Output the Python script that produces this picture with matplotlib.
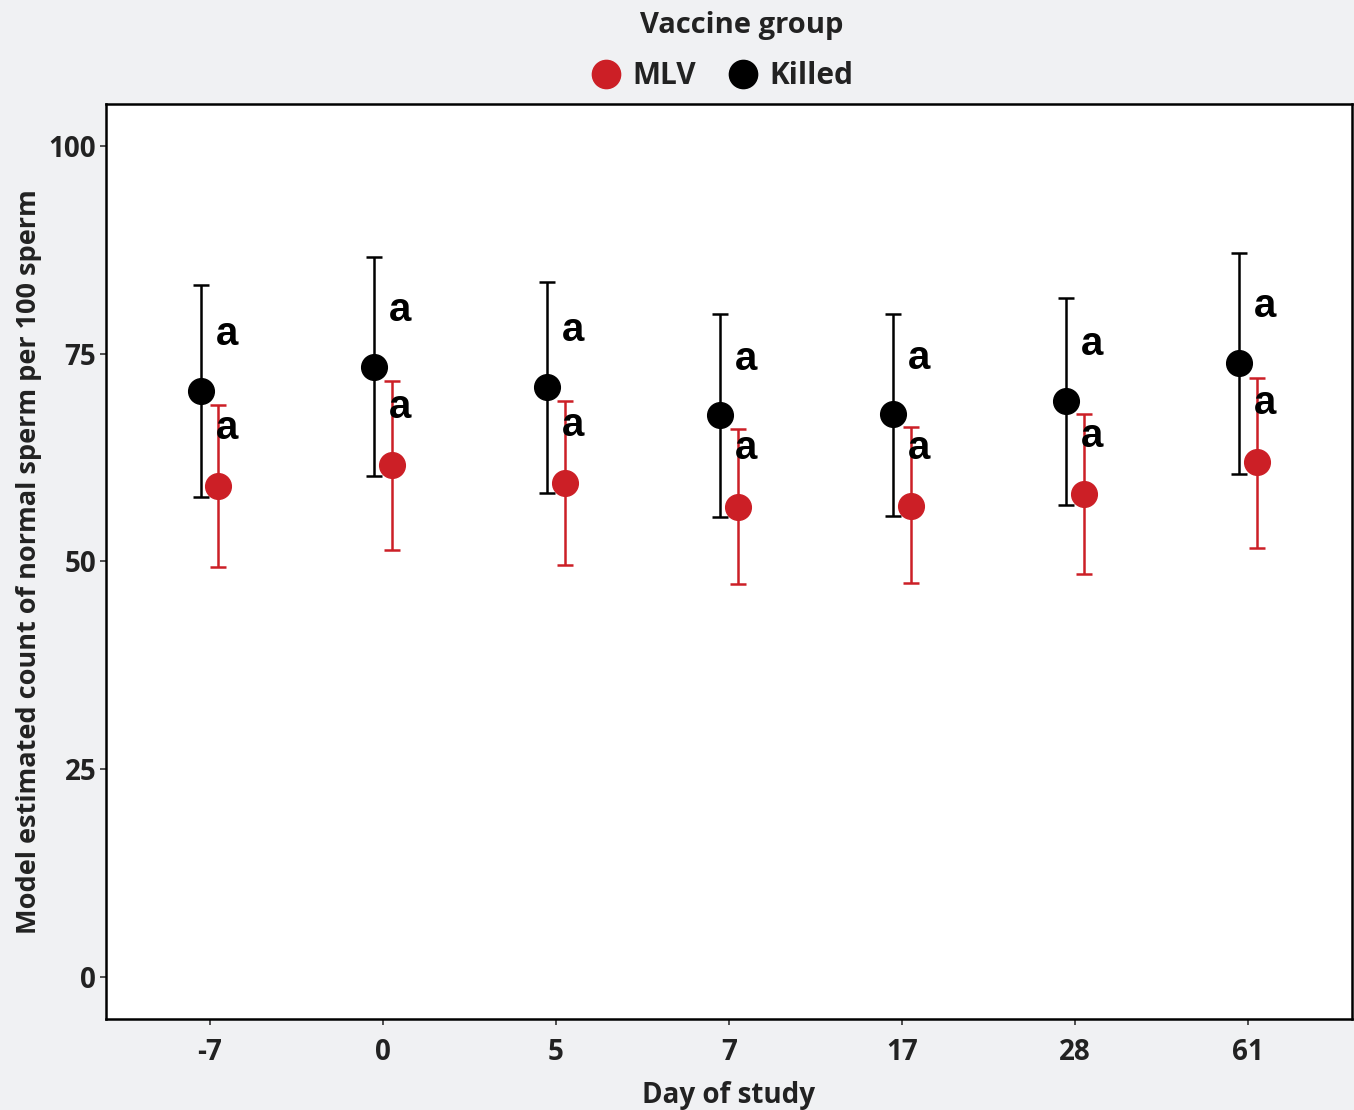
import numpy as np
import matplotlib.pyplot as plt

# Day of study categories
days = ["-7", "0", "5", "7", "17", "28", "61"]

# Killed vaccine group: estimate and 95% CI
killed_mean = [70.5, 73.4, 71.0, 67.6, 67.7, 69.3, 73.9]
killed_low = [57.8, 60.3, 58.2, 55.4, 55.5, 56.8, 60.5]
killed_high = [83.2, 86.6, 83.6, 79.7, 79.8, 81.7, 87.1]

# MLV vaccine group: estimate and 95% CI
mlv_mean = [59.1, 61.6, 59.4, 56.6, 56.7, 58.1, 62.0]
mlv_low = [49.3, 51.4, 49.6, 47.3, 47.4, 48.5, 51.6]
mlv_high = [68.8, 71.7, 69.3, 65.9, 66.2, 67.7, 72.1]

# significance letters
killed_letters = ["a"] * 7
mlv_letters = ["a"] * 7

bg = "#f0f1f3"
red = "#cc1f26"
txt = "#222222"

plt.rcParams['font.family'] = ['Open Sans', 'DejaVu Sans']

fig = plt.figure(figsize=(13.54, 11.1), dpi=100, facecolor=bg)
ax = fig.add_axes([0.0783, 0.082, 0.9202, 0.8243])
ax.set_facecolor("white")

x = np.arange(len(days))
dodge = 0.05

km = np.array(killed_mean)
mm = np.array(mlv_mean)
k_err = [km - np.array(killed_low), np.array(killed_high) - km]
m_err = [mm - np.array(mlv_low), np.array(mlv_high) - mm]

ax.errorbar(x - dodge, km, yerr=k_err, fmt="none", ecolor="black",
            elinewidth=1.8, capsize=6, capthick=1.8, zorder=2)
ax.errorbar(x + dodge, mm, yerr=m_err, fmt="none", ecolor=red,
            elinewidth=1.8, capsize=6, capthick=1.8, zorder=2)
ax.plot(x + dodge, mm, "o", color=red, markersize=18.5, label="MLV", zorder=3)
ax.plot(x - dodge, km, "o", color="black", markersize=18.5, label="Killed", zorder=3)

for i in range(len(days)):
    ax.text(x[i] + 0.1, km[i] + 6.8, killed_letters[i], ha="center", va="center",
            fontsize=29, fontweight="bold", family="Liberation Sans", color="black")
    ax.text(x[i] + 0.1, mm[i] + 7.0, mlv_letters[i], ha="center", va="center",
            fontsize=29, fontweight="bold", family="Liberation Sans", color="black")

ax.set_xlim(-0.6, len(days) - 0.4)
ax.set_ylim(-5, 105)
ax.set_xticks(x)
ax.set_xticklabels(days)
ax.set_yticks([0, 25, 50, 75, 100])

for s in ax.spines.values():
    s.set_linewidth(1.8)
    s.set_color("black")

ax.tick_params(axis="both", length=4, width=1.2, color="#333333",
               labelsize=20, labelcolor=txt)
ax.tick_params(axis="x", pad=10)
ax.tick_params(axis="y", pad=3)
for lab in ax.get_xticklabels() + ax.get_yticklabels():
    lab.set_fontweight("bold")

ax.set_xlabel("Day of study", fontsize=20, fontweight="bold", color=txt, labelpad=10)
ax.set_ylabel("Model estimated count of normal sperm per 100 sperm", fontsize=19.5,
              fontweight="bold", color=txt, labelpad=5)

# legend title placed separately (it sits right of the key's centre)
fig.text(0.548, 1 - 25 / 1110, "Vaccine group", ha="center", va="center",
         fontsize=21, fontweight="bold", color=txt)
leg = fig.legend(loc="center", bbox_to_anchor=(0.530, 1 - 76 / 1110), ncol=2,
                 frameon=False, fontsize=21.5, handletextpad=0.1,
                 columnspacing=0.75, markerscale=1.1, handlelength=1.6)
for t in leg.get_texts():
    t.set_fontweight("bold")
    t.set_color(txt)

fig.savefig("out.png", dpi=100, facecolor=bg)
